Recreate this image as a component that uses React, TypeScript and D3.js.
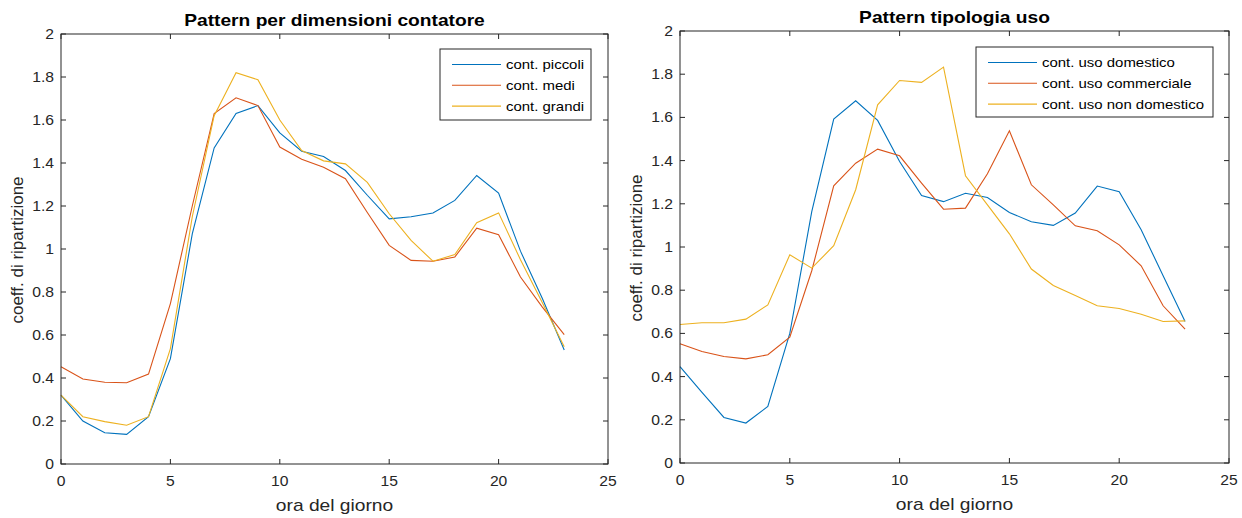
import React from "react";
import * as d3 from "d3";

const hours = d3.range(0, 24);

const piccoli = [0.32, 0.2, 0.145, 0.138, 0.22, 0.49, 1.07, 1.47, 1.63, 1.667, 1.54, 1.455, 1.43, 1.365, 1.25, 1.14, 1.15, 1.167, 1.226, 1.342, 1.26, 0.99, 0.77, 0.53];
const medi = [0.452, 0.395, 0.38, 0.378, 0.418, 0.746, 1.2, 1.63, 1.703, 1.667, 1.474, 1.417, 1.38, 1.327, 1.17, 1.017, 0.947, 0.943, 0.963, 1.097, 1.066, 0.87, 0.73, 0.602];
const grandi = [0.32, 0.22, 0.197, 0.18, 0.22, 0.537, 1.15, 1.62, 1.82, 1.787, 1.6, 1.458, 1.41, 1.396, 1.31, 1.164, 1.04, 0.943, 0.974, 1.122, 1.168, 0.95, 0.75, 0.545];

const domestico = [0.446, 0.327, 0.211, 0.185, 0.262, 0.6, 1.164, 1.592, 1.677, 1.586, 1.396, 1.238, 1.21, 1.249, 1.229, 1.16, 1.117, 1.1, 1.157, 1.282, 1.256, 1.08, 0.867, 0.655];
const commerciale = [0.552, 0.516, 0.493, 0.482, 0.501, 0.583, 0.89, 1.283, 1.388, 1.453, 1.422, 1.296, 1.175, 1.18, 1.339, 1.538, 1.288, 1.195, 1.098, 1.075, 1.01, 0.913, 0.728, 0.62];
const nonDomestico = [0.641, 0.649, 0.649, 0.666, 0.732, 0.964, 0.902, 1.006, 1.265, 1.658, 1.771, 1.762, 1.833, 1.33, 1.195, 1.061, 0.898, 0.822, 0.776, 0.728, 0.715, 0.689, 0.655, 0.658];

const xTicks = [0, 5, 10, 15, 20, 25];
const yTicks = [0, 0.2, 0.4, 0.6, 0.8, 1, 1.2, 1.4, 1.6, 1.8, 2];

const colors = ["#0072BD", "#D95319", "#EDB120"];

const leftSeries = [
  { name: "cont. piccoli", values: piccoli },
  { name: "cont. medi", values: medi },
  { name: "cont. grandi", values: grandi },
];
const rightSeries = [
  { name: "cont. uso domestico", values: domestico },
  { name: "cont. uso commerciale", values: commerciale },
  { name: "cont. uso non domestico", values: nonDomestico },
];

const AX = "#262626";
const FONT = "'Liberation Sans', Arial, Helvetica, sans-serif";
const SX = 1.17;

function SText(props: { x: number; y: number; anchor?: string; size: number; bold?: boolean; fill?: string; sx?: number; children: React.ReactNode }) {
  const { x, y, anchor = "start", size, bold, fill = AX, sx = SX, children } = props;
  return (
    <g transform={`translate(${x},${y}) scale(${sx},1)`}>
      <text x={0} y={0} textAnchor={anchor as any} fontFamily={FONT} fontWeight={bold ? "bold" : "normal"} fontSize={size} fill={fill}>{children}</text>
    </g>
  );
}

type PanelProps = {
  title: string;
  series: { name: string; values: number[] }[];
  left: number; right: number; top: number; bottom: number;
  legend: { x: number; y: number; w: number; h: number };
  titleY: number;
  yLabelX: number;
};

function Panel({ title, series, left, right, top, bottom, legend, titleY, yLabelX }: PanelProps) {
  const x = d3.scaleLinear().domain([0, 25]).range([left, right]);
  const y = d3.scaleLinear().domain([0, 2]).range([bottom, top]);
  const line = d3.line<number>().x((_, i) => x(hours[i])).y((d) => y(d));
  const tl = 5;
  return (
    <g>
      <SText x={(left + right) / 2} y={titleY} anchor="middle" size={16} bold fill="#000" sx={1.2}>{title}</SText>
      {series.map((s, i) => (
        <path key={s.name} d={line(s.values) || ""} fill="none" stroke={colors[i]} strokeWidth={1.1} />
      ))}
      <rect x={left} y={top} width={right - left} height={bottom - top} fill="none" stroke={AX} strokeWidth={1} />
      {xTicks.map((t) => (
        <g key={"x" + t}>
          <line x1={x(t)} x2={x(t)} y1={bottom} y2={bottom - tl} stroke={AX} />
          <line x1={x(t)} x2={x(t)} y1={top} y2={top + tl} stroke={AX} />
          <SText x={x(t)} y={bottom + 22} anchor="middle" size={14} sx={1.12}>{t}</SText>
        </g>
      ))}
      {yTicks.map((t) => (
        <g key={"y" + t}>
          <line x1={left} x2={left + tl} y1={y(t)} y2={y(t)} stroke={AX} />
          <line x1={right} x2={right - tl} y1={y(t)} y2={y(t)} stroke={AX} />
          <SText x={left - 7} y={y(t) + 5} anchor="end" size={14} sx={1.12}>{d3.format("~g")(t)}</SText>
        </g>
      ))}
      <SText x={(left + right) / 2} y={bottom + 47} anchor="middle" size={16} sx={1.2}>ora del giorno</SText>
      <text transform={`translate(${yLabelX},${(top + bottom) / 2 + 1}) rotate(-90)`} textAnchor="middle" fontFamily={FONT} fontSize={17} fill={AX}>coeff. di ripartizione</text>
      <rect x={legend.x} y={legend.y} width={legend.w} height={legend.h} fill="#fff" stroke={AX} strokeWidth={1} />
      {series.map((s, i) => {
        const cy = legend.y + 15.5 + i * 20.8;
        return (
          <g key={"lg" + s.name}>
            <line x1={legend.x + 12} x2={legend.x + 61} y1={cy} y2={cy} stroke={colors[i]} strokeWidth={1.1} />
            <SText x={legend.x + 66} y={cy + 4.5} size={13} fill="#000" sx={1.15}>{s.name}</SText>
          </g>
        );
      })}
    </g>
  );
}

export default function App() {
  return (
    <svg width={1242} height={518} style={{ position: "absolute", left: 0, top: 0, background: "#fff" }}>
      <rect width={1242} height={518} fill="#fff" />
      <Panel title="Pattern per dimensioni contatore" series={leftSeries} left={61} right={608} top={34} bottom={464}
        legend={{ x: 440, y: 49, w: 151, h: 71 }} titleY={26} yLabelX={23} />
      <Panel title="Pattern tipologia uso" series={rightSeries} left={680} right={1229} top={31} bottom={463}
        legend={{ x: 976, y: 47, w: 237, h: 70 }} titleY={23} yLabelX={642} />
    </svg>
  );
}
